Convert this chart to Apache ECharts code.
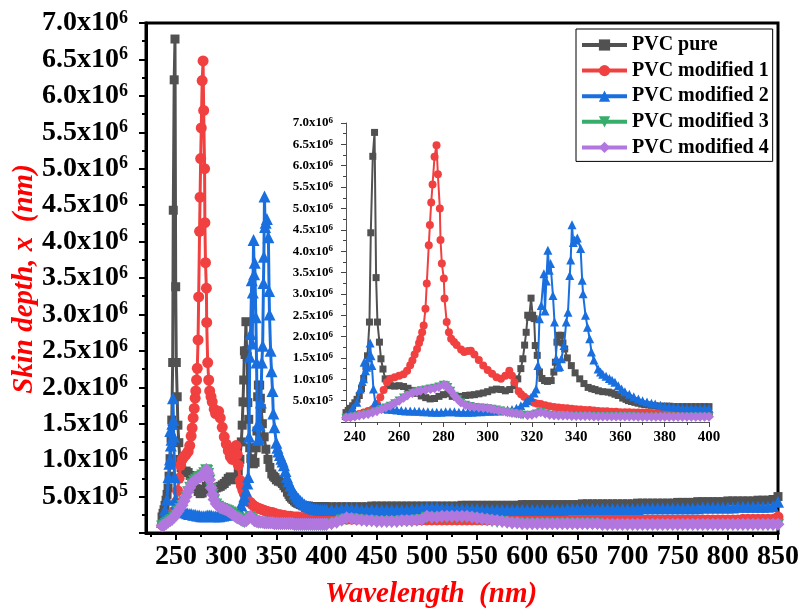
<!DOCTYPE html>
<html>
<head>
<meta charset="utf-8">
<script src="https://cdn.jsdelivr.net/npm/echarts@6/dist/echarts.min.js"></script>
<style>
  html, body { margin: 0; background: #fff; }
  #chart { width: 802px; height: 615px; }
</style>
</head>
<body>
<div id="chart"></div>
<script>
// skin depth values are in units of 10^6 nm
const seriesNames = ["PVC pure", "PVC modified 1", "PVC modified 2", "PVC modified 3", "PVC modified 4"];

// wavelength (nm), value — the 236..400 nm region (peaks)
const pvcPureHead = [
  [236,0.22],[237,0.27],[238,0.32],[239,0.38],[240,0.45],[241,0.53],[242,0.62],[243,0.78],[244,1.02],[245,1.30],
  [245.7,1.55],[246.6,2.34],[247.2,4.43],[248.1,6.22],[248.9,6.78],[249.6,3.38],[250.2,2.34],[251.1,1.87],[251.8,1.48],
  [252.7,1.24],[253.7,1.01],[255,0.90],[256,0.85],[258,0.84],[260,0.85],[262,0.83],[264,0.79],[266,0.74],[268,0.67],
  [270,0.61],[272,0.57],[274,0.54],[276,0.55],[278,0.60],[280,0.64],[282,0.66],[284,0.60],[286,0.58],[288,0.60],
  [290,0.62],[292,0.63],[294,0.64],[296,0.66],[298,0.68],[300,0.71],[302,0.75],[304,0.77],[306,0.76],[308,0.73],
  [310,0.76],[312,0.85],[313.6,1.01],[315,1.25],[315.9,1.48],[316.7,1.80],[317.4,2.10],[318.1,2.50],[318.8,2.45],
  [319.6,2.90],[320.3,2.50],[321,2.42],[321.5,1.79],[322.4,1.56],[323.4,1.17],[324.5,1.02],[325.7,0.97],[327,0.95],
  [328.7,0.97],[329.9,1.17],[330.6,1.40],[331.3,1.87],[332,2.03],[333.3,2.03],[334,1.85],[334.8,1.71],[336,1.50],
  [337.8,1.32],[339.5,1.15],[341.6,1.01],[343.5,0.90],[345.4,0.81],[347,0.78],[348.5,0.76],[350,0.73],[352,0.71],
  [354.5,0.70],[356,0.68],[357.5,0.65],[359,0.62],[361,0.56],[362.5,0.53],[363.6,0.50],[365,0.48],[366.5,0.46],
  [368,0.44],[369.6,0.42],[371,0.41],[372.5,0.40],[374,0.39],[375.7,0.38],[378,0.37],[380,0.37],[382,0.37],
  [384,0.36],[386,0.36],[388,0.36],[390,0.36],[392,0.36],[394,0.36],[396,0.36],[398,0.36],[400,0.36]
];
const pvcMod1Head = [
  [236,0.11],[238,0.13],[240,0.16],[242,0.19],[244,0.22],[246,0.26],[248,0.30],[250,0.42],[251.5,0.58],[253,0.75],
  [254.5,0.93],[256,1.01],[258,1.05],[260,1.08],[262,1.12],[263.6,1.20],[265,1.33],[266,1.44],[267,1.58],[268.1,1.71],
  [269,1.85],[269.6,1.95],[270.4,2.10],[271.1,2.26],[271.9,2.65],[272.5,3.24],[273.4,4.14],[273.9,4.61],[274.5,5.14],
  [275.1,5.56],[276,6.21],[276.9,6.48],[277.5,5.80],[278.4,5.00],[278.7,4.26],[279.3,3.71],[280.2,3.36],[280.5,2.89],
  [281.5,2.34],[282.5,2.10],[283.5,1.95],[284.8,1.87],[286,1.80],[288,1.70],[289.4,1.64],[291,1.66],[292.4,1.67],
  [294,1.58],[296,1.45],[298,1.32],[300,1.22],[302,1.13],[304,1.05],[306,1.01],[308,1.08],[309.8,1.20],[311,1.08],
  [312.1,0.93],[314,0.72],[315.1,0.65],[316.5,0.59],[318,0.54],[319.5,0.49],[321,0.45],[322.5,0.43],[324,0.42],
  [326,0.39],[328,0.37],[330,0.35],[332,0.34],[334,0.33],[336,0.32],[338,0.31],[340,0.30],[342,0.29],[344,0.28],
  [346,0.28],[348,0.27],[350,0.26],[352,0.25],[354,0.25],[356,0.24],[358,0.24],[360,0.23],[362,0.23],[364,0.23],
  [366,0.22],[368,0.22],[370,0.22],[372,0.22],[374,0.21],[376,0.21],[378,0.21],[380,0.21],[382,0.21],[384,0.20],
  [386,0.20],[388,0.20],[390,0.20],[392,0.20],[394,0.19],[396,0.19],[398,0.19],[400,0.19]
];
const pvcMod2Head = [
  [236,0.15],[237.8,0.23],[239,0.32],[240.9,0.46],[242.4,0.77],[243.3,0.95],[243.9,1.01],[244.2,1.40],[244.8,1.20],
  [245.4,1.28],[246.2,1.50],[246.9,1.85],[247.3,1.55],[247.7,1.32],[248.4,0.77],[249.2,0.46],[250,0.40],[251.5,0.35],
  [253,0.32],[255,0.30],[257,0.29],[259,0.28],[261,0.27],[263,0.26],[265,0.26],[267,0.25],[269,0.25],[271,0.24],
  [273,0.24],[275,0.23],[277,0.23],[279,0.23],[281,0.24],[283,0.24],[285,0.24],[287,0.23],[289,0.23],[291,0.23],
  [293,0.23],[295,0.24],[297,0.24],[299,0.25],[301,0.25],[303,0.26],[305,0.26],[307,0.27],[309,0.28],[311,0.29],
  [313,0.32],[315,0.38],[317,0.45],[318,0.50],[319.6,0.58],[321,0.68],[321.9,0.77],[322.7,1.32],[323.4,2.42],
  [324.2,2.73],[325.4,3.47],[325.9,2.60],[326.5,3.30],[327.2,4.02],[327.8,3.55],[328.4,3.71],[329.5,2.96],[330.2,2.34],
  [331,1.48],[331.8,1.28],[332.5,1.30],[333.3,1.48],[334.5,1.79],[335.5,2.34],[336.3,2.57],[337.1,3.43],[337.5,3.79],
  [338.1,4.62],[338.7,4.20],[339.3,4.26],[340.5,4.31],[342,4.06],[342.7,3.32],[343.1,3.00],[344.2,2.50],[345.1,2.22],
  [346.1,1.95],[346.9,1.64],[348,1.45],[349.9,1.24],[351,1.17],[352,1.12],[353.5,1.07],[355,1.02],[356.2,0.98],
  [357.5,0.93],[359,0.85],[360.5,0.77],[362,0.71],[364,0.65],[366,0.59],[368.1,0.54],[370,0.50],[372,0.47],
  [374,0.44],[375.7,0.42],[378,0.39],[380,0.37],[382,0.36],[384,0.35],[386,0.34],[388,0.33],[390,0.33],[392,0.32],
  [394,0.32],[396,0.32],[398,0.32],[400,0.32]
];
const pvcMod3Head = [
  [236,0.09],[238,0.10],[240,0.12],[242,0.14],[244,0.16],[246,0.18],[248,0.21],[250,0.24],[252,0.29],[254,0.33],
  [256,0.37],[258,0.43],[260,0.49],[262,0.56],[264,0.62],[266,0.67],[268,0.71],[270,0.73],[272,0.75],[274,0.77],
  [276,0.79],[278,0.82],[280,0.86],[281,0.85],[282,0.81],[283.3,0.72],[285,0.60],[286.5,0.52],[288,0.45],[290,0.39],
  [292,0.36],[294,0.34],[296,0.33],[298,0.32],[300,0.31],[302,0.30],[304,0.28],[306,0.26],[308,0.23],[310,0.21],
  [312,0.20],[314,0.18],[316,0.16],[318,0.15],[320,0.16],[322,0.19],[324,0.22],[326,0.19],[328,0.16],[330,0.15],
  [332,0.14],[334,0.14],[336,0.14],[338,0.13],[340,0.13],[342,0.13],[344,0.13],[346,0.13],[348,0.12],[350,0.12],
  [352,0.12],[354,0.12],[356,0.12],[358,0.12],[360,0.12],[362,0.12],[364,0.12],[366,0.12],[368,0.11],[370,0.11],
  [372,0.11],[374,0.11],[376,0.11],[378,0.11],[380,0.11],[382,0.11],[384,0.11],[386,0.11],[388,0.11],[390,0.11],
  [392,0.11],[394,0.11],[396,0.11],[398,0.11],[400,0.11]
];
const pvcMod4Head = [
  [236,0.10],[238,0.11],[240,0.13],[242,0.15],[244,0.17],[246,0.19],[248,0.22],[250,0.26],[252,0.30],[254,0.34],
  [256,0.38],[258,0.44],[260,0.50],[262,0.57],[263.6,0.62],[266,0.68],[268,0.71],[269.6,0.73],[272,0.75],[274.2,0.77],
  [276,0.79],[278,0.82],[280.2,0.87],[281,0.85],[282,0.82],[283.3,0.73],[285,0.62],[286.5,0.53],[287.8,0.46],[290,0.40],
  [292,0.37],[293.9,0.35],[296,0.34],[298,0.33],[300,0.32],[301.5,0.31],[303,0.29],[305,0.27],[307,0.25],[309,0.23],
  [311,0.21],[313,0.20],[315,0.18],[318,0.16],[320,0.17],[322,0.20],[324,0.23],[326,0.20],[328,0.17],[330,0.16],
  [332,0.15],[334,0.15],[336,0.15],[338,0.14],[340,0.14],[342,0.14],[344,0.14],[346,0.14],[348,0.13],[350,0.13],
  [352,0.13],[354,0.13],[356,0.13],[358,0.13],[360,0.13],[362,0.13],[364,0.13],[366,0.13],[368,0.12],[370,0.12],
  [372,0.12],[374,0.12],[376,0.12],[378,0.12],[380,0.12],[382,0.12],[384,0.12],[386,0.12],[388,0.12],[390,0.12],
  [392,0.12],[394,0.12],[396,0.12],[398,0.12],[400,0.12]
];

// 405..850 nm region (flat tails), one value every 5 nm
const wavelengthTail = [
  405,410,415,420,425,430,435,440,445,450, 455,460,465,470,475,480,485,490,495,500,
  505,510,515,520,525,530,535,540,545,550, 555,560,565,570,575,580,585,590,595,600,
  605,610,615,620,625,630,635,640,645,650, 655,660,665,670,675,680,685,690,695,700,
  705,710,715,720,725,730,735,740,745,750, 755,760,765,770,775,780,785,790,795,800,
  805,810,815,820,825,830,835,840,845,850
];
const pvcPureTail = [
  0.36,0.36,0.36,0.36,0.36,0.36,0.36,0.36,0.37,0.37, 0.37,0.37,0.37,0.37,0.37,0.37,0.37,0.37,0.37,0.37,
  0.37,0.37,0.37,0.37,0.37,0.37,0.38,0.38,0.38,0.38, 0.38,0.38,0.38,0.38,0.38,0.38,0.38,0.38,0.39,0.39,
  0.39,0.39,0.39,0.39,0.39,0.39,0.39,0.39,0.39,0.39, 0.40,0.40,0.40,0.40,0.40,0.40,0.40,0.40,0.40,0.40,
  0.40,0.41,0.41,0.41,0.41,0.41,0.41,0.41,0.41,0.42, 0.42,0.42,0.42,0.43,0.43,0.43,0.43,0.43,0.43,0.44,
  0.44,0.44,0.44,0.44,0.44,0.45,0.45,0.45,0.46,0.50
];
const pvcMod1Tail = [
  0.19,0.19,0.19,0.19,0.19,0.19,0.19,0.19,0.19,0.19, 0.18,0.18,0.18,0.18,0.18,0.18,0.18,0.18,0.18,0.18,
  0.18,0.18,0.18,0.18,0.18,0.18,0.18,0.18,0.18,0.18, 0.18,0.18,0.18,0.18,0.18,0.18,0.18,0.18,0.18,0.18,
  0.18,0.18,0.18,0.18,0.18,0.18,0.18,0.18,0.18,0.18, 0.18,0.18,0.18,0.18,0.18,0.18,0.18,0.18,0.18,0.18,
  0.18,0.18,0.18,0.18,0.18,0.18,0.18,0.18,0.18,0.18, 0.18,0.18,0.18,0.18,0.18,0.18,0.18,0.18,0.18,0.18,
  0.18,0.18,0.19,0.19,0.19,0.19,0.19,0.19,0.19,0.22
];
const pvcMod2Tail = [
  0.32,0.32,0.33,0.34,0.33,0.33,0.32,0.32,0.32,0.32, 0.32,0.32,0.32,0.32,0.32,0.32,0.33,0.33,0.34,0.35,
  0.35,0.35,0.34,0.34,0.34,0.33,0.33,0.33,0.33,0.33, 0.32,0.32,0.32,0.32,0.32,0.32,0.32,0.32,0.32,0.32,
  0.32,0.32,0.32,0.32,0.32,0.32,0.32,0.33,0.33,0.33, 0.33,0.33,0.33,0.33,0.33,0.33,0.33,0.33,0.33,0.33,
  0.33,0.33,0.34,0.34,0.34,0.34,0.34,0.34,0.34,0.34, 0.34,0.34,0.34,0.34,0.35,0.35,0.35,0.35,0.35,0.35,
  0.35,0.36,0.36,0.36,0.36,0.36,0.36,0.36,0.37,0.43
];
const pvcMod3Tail = [
  0.12,0.14,0.17,0.19,0.19,0.18,0.17,0.16,0.16,0.15, 0.15,0.15,0.15,0.15,0.16,0.16,0.16,0.17,0.18,0.21,
  0.20,0.20,0.21,0.21,0.21,0.21,0.21,0.21,0.20,0.19, 0.18,0.17,0.16,0.15,0.15,0.14,0.13,0.13,0.12,0.12,
  0.12,0.12,0.12,0.12,0.12,0.12,0.12,0.12,0.12,0.12, 0.12,0.12,0.12,0.12,0.11,0.11,0.11,0.11,0.11,0.11,
  0.11,0.11,0.11,0.11,0.11,0.11,0.11,0.11,0.11,0.11, 0.11,0.11,0.11,0.11,0.11,0.11,0.11,0.11,0.11,0.11,
  0.11,0.11,0.11,0.11,0.11,0.11,0.11,0.11,0.11,0.11
];
const pvcMod4Tail = [
  0.13,0.15,0.18,0.21,0.20,0.19,0.18,0.17,0.17,0.16, 0.16,0.16,0.16,0.16,0.17,0.17,0.17,0.18,0.19,0.23,
  0.22,0.22,0.23,0.23,0.23,0.23,0.23,0.23,0.22,0.21, 0.20,0.19,0.18,0.17,0.16,0.15,0.14,0.14,0.13,0.13,
  0.13,0.13,0.13,0.13,0.13,0.13,0.13,0.13,0.13,0.13, 0.13,0.13,0.13,0.13,0.12,0.12,0.12,0.12,0.12,0.12,
  0.12,0.12,0.12,0.12,0.12,0.12,0.12,0.12,0.12,0.12, 0.12,0.12,0.12,0.12,0.12,0.12,0.12,0.12,0.12,0.12,
  0.12,0.12,0.12,0.12,0.12,0.12,0.12,0.12,0.12,0.12
];

// tick positions
const mainXTicks = [250,300,350,400,450,500,550,600,650,700,750,800,850];
const mainXMinor = [225,275,325,375,425,475,525,575,625,675,725,775,825];
const insetXTicks = [240,260,280,300,320,340,360,380,400];
const insetXMinor = [250,270,290,310,330,350,370,390];

const colors = ["#515151", "#F14040", "#1A6FDF", "#37AD6B", "#B177DE"];
const symbols = ["rect", "circle", "triangle", "path://M0,0 L10,0 L5,9 Z", "diamond"];
const mainSizes = [9, 11, 12, 12, 13];
const insetSizes = [7, 8, 9, 9, 10];

const heads = [pvcPureHead, pvcMod1Head, pvcMod2Head, pvcMod3Head, pvcMod4Head];
const tails = [pvcPureTail, pvcMod1Tail, pvcMod2Tail, pvcMod3Tail, pvcMod4Tail];
const fullData = heads.map((h, i) => h.concat(tails[i].map((v, j) => [wavelengthTail[j], v])));

const FONT = '"Liberation Serif", "Times New Roman", serif';

function sciRich(big, small) {
  return {
    m: { fontSize: big, fontWeight: "bold", fontFamily: FONT, color: "#000" },
    s: { fontSize: small, fontWeight: "bold", fontFamily: FONT, color: "#000", verticalAlign: "top" }
  };
}
function sciLabel(v) {
  if (v === 0) return "";
  if (v < 1) return "{m|" + (v * 10).toFixed(1) + "x10}{s|5}";
  return "{m|" + v.toFixed(1) + "x10}{s|6}";
}

const series = [];
fullData.forEach((d, i) => {
  series.push({
    name: seriesNames[i], type: "line", xAxisIndex: 0, yAxisIndex: 0, data: d,
    symbol: symbols[i], symbolSize: mainSizes[i], color: colors[i],
    lineStyle: { width: 3, color: colors[i] }, itemStyle: { color: colors[i] },
    animation: false, z: 2 + i
  });
});
fullData.forEach((d, i) => {
  series.push({
    name: seriesNames[i], type: "line", xAxisIndex: 2, yAxisIndex: 1,
    data: d.filter(p => p[0] <= 400),
    symbol: symbols[i], symbolSize: insetSizes[i], color: colors[i],
    lineStyle: { width: 2, color: colors[i] }, itemStyle: { color: colors[i] },
    animation: false, z: 2 + i
  });
});

const chart = echarts.init(document.getElementById("chart"));
chart.setOption({
  backgroundColor: "#fff",
  animation: false,
  grid: [
    { left: 146, top: 23, width: 634, height: 510, show: true, borderColor: "#000", borderWidth: 3, backgroundColor: "transparent" },
    { left: 346, top: 123, width: 363, height: 299 }
  ],
  legend: {
    data: seriesNames, orient: "vertical", left: 576, top: 29,
    padding: [5, 4, 3, 4], itemGap: 3.6, itemWidth: 45, itemHeight: 14, itemTextGap: 5,
    borderColor: "#000", borderWidth: 1, backgroundColor: "#fff",
    lineStyle: { width: 4 },
    textStyle: { fontFamily: FONT, fontWeight: "bold", fontSize: 20, color: "#000", lineHeight: 22 }
  },
  xAxis: [
    { gridIndex: 0, type: "value", position: "bottom", min: 220, max: 850,
      axisLine: { lineStyle: { color: "#000", width: 3 } },
      axisTick: { customValues: mainXTicks, length: 7, lineStyle: { color: "#000", width: 2 } },
      axisLabel: { customValues: mainXTicks, margin: 10, fontFamily: FONT, fontWeight: "bold", fontSize: 28, color: "#000" },
      splitLine: { show: false } },
    { gridIndex: 0, type: "value", position: "bottom", min: 220, max: 850,
      axisLine: { show: false },
      axisTick: { customValues: mainXMinor, length: 4, lineStyle: { color: "#000", width: 2 } },
      axisLabel: { show: false }, splitLine: { show: false } },
    { gridIndex: 1, type: "value", position: "bottom", min: 236, max: 400,
      axisLine: { lineStyle: { color: "#555", width: 1 } },
      axisTick: { customValues: insetXTicks, length: 5, lineStyle: { color: "#444", width: 1 } },
      axisLabel: { customValues: insetXTicks, margin: 8, fontFamily: FONT, fontWeight: "bold", fontSize: 15, color: "#000" },
      splitLine: { show: false } },
    { gridIndex: 1, type: "value", position: "bottom", min: 236, max: 400,
      axisLine: { show: false },
      axisTick: { customValues: insetXMinor, length: 3, lineStyle: { color: "#444", width: 1 } },
      axisLabel: { show: false }, splitLine: { show: false } }
  ],
  yAxis: [
    { gridIndex: 0, type: "value", min: 0, max: 7, interval: 0.5,
      axisLine: { lineStyle: { color: "#000", width: 3 } },
      axisTick: { length: 7, lineStyle: { color: "#000", width: 2 } },
      minorTick: { show: true, splitNumber: 2, length: 4, lineStyle: { color: "#000", width: 2 } },
      axisLabel: { margin: 18, formatter: sciLabel, rich: sciRich(28, 18) },
      splitLine: { show: false } },
    { gridIndex: 1, type: "value", min: 0, max: 7, interval: 0.5,
      axisLine: { lineStyle: { color: "#555", width: 1 } },
      axisTick: { length: 5, lineStyle: { color: "#444", width: 1 } },
      minorTick: { show: true, splitNumber: 2, length: 3, lineStyle: { color: "#444", width: 1 } },
      axisLabel: { margin: 13, formatter: sciLabel, rich: sciRich(13, 9) },
      splitLine: { show: false } }
  ],
  graphic: [
    { type: "text", left: 325, top: 580,
      style: { text: "Wavelength  (nm)", fill: "#ff0000", font: "italic bold 29px " + FONT } },
    { type: "text", x: 25, y: 279, rotation: Math.PI / 2,
      style: { text: "Skin depth, x  (nm)", fill: "#ff0000", font: "italic bold 29px " + FONT, align: "center", verticalAlign: "middle" } }
  ],
  series: series
});
</script>
</body>
</html>
